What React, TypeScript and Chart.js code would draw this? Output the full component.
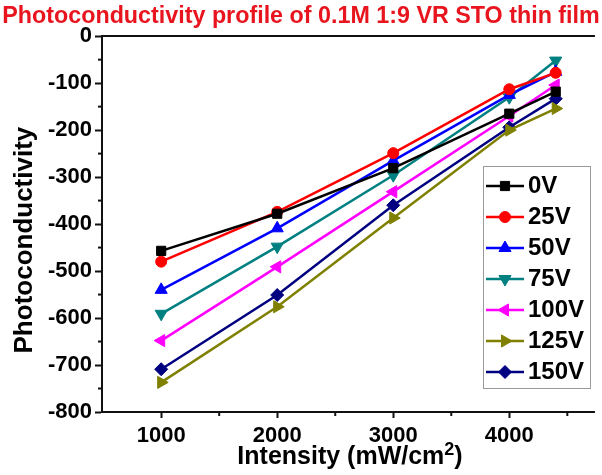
import { useEffect, useRef } from 'react';
import { Chart, registerables } from 'chart.js';
import { drawPoint } from 'chart.js/helpers';

Chart.register(...registerables);

const intensity = [1000, 2000, 3000, 4000, 4400];
const seriesLabels = ['0V', '25V', '50V', '75V', '100V', '125V', '150V'];
const v0 = [-457, -378, -281, -165, -118];
const v25 = [-480, -374, -249, -113, -78];
const v50 = [-540, -409, -265, -125, -76];
const v75 = [-591, -448, -296, -130, -52];
const v100 = [-648, -491, -331, -170, -104];
const v125 = [-737, -576, -387, -200, -154];
const v150 = [-709, -551, -360, -194, -133];
const seriesValues = [v0, v25, v50, v75, v100, v125, v150];

const xTicks = [1000, 1500, 2000, 2500, 3000, 3500, 4000, 4500];
const xTickLabels = ['1000', '', '2000', '', '3000', '', '4000', ''];
const yTicks = [-800, -750, -700, -650, -600, -550, -500, -450, -400, -350, -300, -250, -200, -150, -100, -50, 0];
const yTickLabels = ['-800', '', '-700', '', '-600', '', '-500', '', '-400', '', '-300', '', '-200', '', '-100', '', '0'];

const titleText = 'Photoconductivity profile of 0.1M 1:9 VR STO thin film';
const xTitleMain = 'Intensity (mW/cm';
const xTitleSup = '2';
const xTitleEnd = ')';
const yTitleText = 'Photoconductivity';

const colors = ['#000000', '#ff0000', '#0000ff', '#008080', '#ff00ff', '#808000', '#000080'];
const pointStyles = ['rect', 'circle', 'triangle', 'triangle', 'triangle', 'triangle', 'rectRot'];
const pointRotations = [0, 0, 0, 180, 270, 90, 0];
const pointRadii = [6.5, 5.5, 7, 7, 7, 7, 6.5];

const FONT = "'Liberation Sans', Arial, Helvetica, sans-serif";

const minorTicksPlugin = {
  id: 'minorTicks',
  afterDraw(chart: any) {
    const { ctx, chartArea } = chart;
    const xs = chart.scales.x;
    const ys = chart.scales.y;
    ctx.save();
    ctx.strokeStyle = '#111';
    ctx.lineWidth = 2;
    xTicks.forEach((v, i) => {
      if (xTickLabels[i] !== '') return;
      const px = xs.getPixelForValue(v);
      ctx.beginPath();
      ctx.moveTo(px, chartArea.bottom);
      ctx.lineTo(px, chartArea.bottom + 4);
      ctx.stroke();
    });
    yTicks.forEach((v, i) => {
      if (yTickLabels[i] !== '') return;
      const py = ys.getPixelForValue(v);
      ctx.beginPath();
      ctx.moveTo(chartArea.left - 4, py);
      ctx.lineTo(chartArea.left, py);
      ctx.stroke();
    });
    ctx.restore();
  },
};

const axisTitlesPlugin = {
  id: 'axisTitles',
  afterDraw(chart: any) {
    const { ctx, chartArea } = chart;
    ctx.save();
    ctx.fillStyle = '#000';
    // x title with superscript
    const mainFont = `bold 25px ${FONT}`;
    const supFont = `bold 18px ${FONT}`;
    ctx.font = mainFont;
    const wMain = ctx.measureText(xTitleMain).width;
    const wEnd = ctx.measureText(xTitleEnd).width;
    ctx.font = supFont;
    const wSup = ctx.measureText(xTitleSup).width;
    const total = wMain + wSup + wEnd;
    const cx = (chartArea.left + chartArea.right) / 2 + 2;
    let x0 = cx - total / 2;
    const base = chartArea.bottom + 52;
    ctx.textAlign = 'left';
    ctx.textBaseline = 'alphabetic';
    ctx.font = mainFont;
    ctx.fillText(xTitleMain, x0, base);
    x0 += wMain;
    ctx.font = supFont;
    ctx.fillText(xTitleSup, x0, base - 9);
    x0 += wSup;
    ctx.font = mainFont;
    ctx.fillText(xTitleEnd, x0, base);
    // y title rotated
    ctx.translate(32, (chartArea.top + chartArea.bottom) / 2 + 16);
    ctx.rotate(-Math.PI / 2);
    ctx.font = `bold 26px ${FONT}`;
    ctx.textAlign = 'center';
    ctx.fillText(yTitleText, 0, 0);
    ctx.restore();
  },
};

const boxLegendPlugin = {
  id: 'boxLegend',
  afterDraw(chart: any) {
    const { ctx } = chart;
    const bx = 483, by = 166, bw = 107, bh = 222;
    ctx.save();
    ctx.fillStyle = '#ffffff';
    ctx.fillRect(bx, by, bw, bh);
    ctx.strokeStyle = '#999999';
    ctx.lineWidth = 1;
    ctx.strokeRect(bx + 0.5, by + 0.5, bw, bh);
    chart.data.datasets.forEach((ds: any, i: number) => {
      const cy = by + 20 + i * 31;
      ctx.strokeStyle = ds.borderColor;
      ctx.lineWidth = 2.5;
      ctx.beginPath();
      ctx.moveTo(bx + 3, cy);
      ctx.lineTo(bx + 41, cy);
      ctx.stroke();
      ctx.fillStyle = ds.backgroundColor;
      ctx.strokeStyle = ds.borderColor;
      ctx.lineWidth = 1;
      drawPoint(ctx, {
        pointStyle: ds.pointStyle,
        rotation: ds.pointRotation,
        radius: ds.pointRadius,
        borderWidth: 1,
      } as any, bx + 22, cy);
      ctx.fillStyle = '#000';
      ctx.font = `bold 24px ${FONT}`;
      ctx.textAlign = 'left';
      ctx.textBaseline = 'middle';
      ctx.fillText(ds.label, bx + 45, cy);
    });
    ctx.restore();
  },
};

export default function App() {
  const canvasRef = useRef<HTMLCanvasElement | null>(null);

  useEffect(() => {
    if (!canvasRef.current) return;
    const datasets = seriesLabels.map((label, i) => ({
      label,
      data: intensity.map((x, j) => ({ x, y: seriesValues[i][j] })),
      borderColor: colors[i],
      backgroundColor: colors[i],
      pointStyle: pointStyles[i],
      pointRotation: pointRotations[i],
      pointRadius: pointRadii[i],
      pointBorderWidth: 1,
      borderWidth: 2.5,
      fill: false,
      tension: 0,
      xAxisID: 'x',
      yAxisID: 'y',
    }));

    const tickMajorColor = (c: any) => {
      const v = c.tick ? c.tick.value : 0;
      return v % 1000 === 0 ? '#111' : 'rgba(0,0,0,0)';
    };
    const tickMajorColorY = (c: any) => {
      const v = c.tick ? c.tick.value : 0;
      return v % 100 === 0 ? '#111' : 'rgba(0,0,0,0)';
    };

    const chart = new Chart(canvasRef.current, {
      type: 'line',
      data: { datasets: datasets as any },
      options: {
        animation: false,
        responsive: false,
        devicePixelRatio: 1,
        layout: { padding: { left: 0, right: 0, top: 0, bottom: 0 } },
        plugins: {
          legend: { display: false },
          tooltip: { enabled: false },
          title: {
            display: true,
            text: titleText,
            color: '#e8141e',
            font: { family: FONT, size: 23.3, weight: 'bold', lineHeight: 1.2 },
            padding: { top: 3, bottom: 0 },
          },
        },
        scales: {
          x: {
            type: 'linear',
            position: 'bottom',
            min: 490,
            max: 4730,
            afterBuildTicks: (s: any) => {
              s.ticks = xTicks.map((v) => ({ value: v }));
            },
            afterFit: (s: any) => {
              s.height = 63;
            },
            ticks: {
              autoSkip: false,
              maxRotation: 0,
              minRotation: 0,
              padding: 5,
              color: '#000',
              font: { family: FONT, size: 22, weight: 'bold' },
              callback: (v: any) => {
                const k = xTicks.indexOf(Number(v));
                return k >= 0 ? xTickLabels[k] : '';
              },
            },
            grid: {
              drawOnChartArea: false,
              drawTicks: true,
              tickLength: 6,
              tickWidth: 2,
              tickColor: tickMajorColor,
            },
            border: { display: true, color: '#111', width: 2 },
            title: { display: false },
          },
          x2: {
            type: 'linear',
            position: 'top',
            min: 490,
            max: 4730,
            ticks: { display: false },
            grid: { display: false, drawTicks: false },
            border: { display: true, color: '#111', width: 2 },
            afterFit: (s: any) => {
              s.height = 5.2;
            },
          },
          y: {
            type: 'linear',
            position: 'left',
            min: -800,
            max: 0,
            afterBuildTicks: (s: any) => {
              s.ticks = yTicks.map((v) => ({ value: v }));
            },
            afterFit: (s: any) => {
              s.width = 102;
            },
            ticks: {
              autoSkip: false,
              padding: 3,
              color: '#000',
              font: { family: FONT, size: 22, weight: 'bold' },
              callback: (v: any) => {
                const k = yTicks.indexOf(Number(v));
                return k >= 0 ? yTickLabels[k] : '';
              },
            },
            grid: {
              drawOnChartArea: false,
              drawTicks: true,
              tickLength: 7,
              tickWidth: 2,
              tickColor: tickMajorColorY,
            },
            border: { display: true, color: '#111', width: 2 },
            title: { display: false },
          },
        },
      } as any,
      plugins: [minorTicksPlugin, axisTitlesPlugin, boxLegendPlugin],
    });
    return () => chart.destroy();
  }, []);

  return (
    <div style={{ position: 'fixed', left: 0, top: 0, width: 602, height: 475, background: '#fff' }}>
      <canvas ref={canvasRef} width={602} height={475} style={{ width: 602, height: 475, display: 'block' }} />
    </div>
  );
}
